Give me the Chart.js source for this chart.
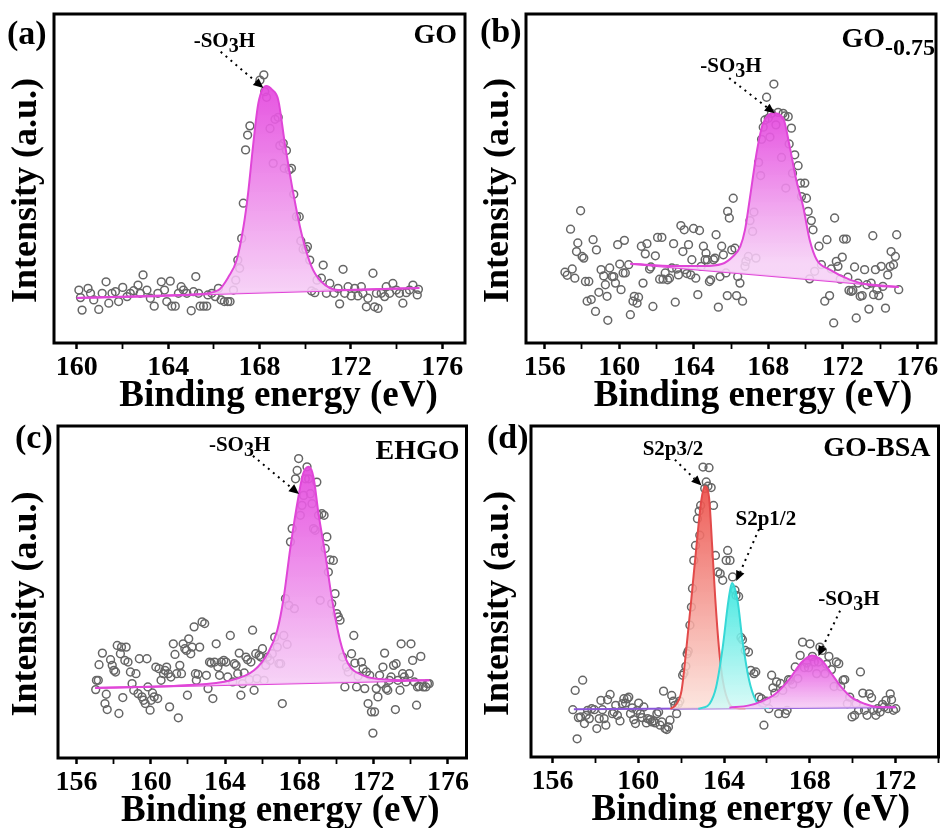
<!DOCTYPE html>
<html>
<head>
<meta charset="utf-8">
<script src="https://cdn.jsdelivr.net/npm/chart.js@4.4.1/dist/chart.umd.min.js"></script>
<style>
  body { margin: 0; background: #fff; }
  #wrap { position: relative; width: 944px; height: 828px; overflow: hidden; }
  canvas { position: absolute; }
</style>
</head>
<body>
<div id="wrap">
  <canvas id="pa" width="472" height="432" style="left:0;top:0"></canvas>
  <canvas id="pb" width="472" height="432" style="left:472px;top:0"></canvas>
  <canvas id="pc" width="472" height="414" style="left:0;top:414px"></canvas>
  <canvas id="pd" width="472" height="414" style="left:472px;top:414px"></canvas>
</div>
<script>
// ---- (a) GO ----
var aTicks = [160, 162, 164, 166, 168, 170, 172, 174, 176];
var aPoints = [[160.09,16.1],[160.16,13.8],[160.23,10.0],[160.49,16.6],[160.6,15.1],[160.74,13.1],[160.96,10.2],[161.11,15.1],[161.28,18.6],[161.4,12.1],[161.54,15.1],[161.69,15.6],[161.83,12.6],[162.01,16.9],[162.2,14.1],[162.34,15.1],[162.49,15.9],[162.68,17.6],[162.78,15.1],[162.9,20.7],[163.07,16.1],[163.22,13.6],[163.39,11.2],[163.55,15.1],[163.7,18.6],[163.84,16.1],[163.94,12.6],[164.09,18.8],[164.16,11.2],[164.31,11.2],[164.45,15.1],[164.57,17.1],[164.67,16.1],[164.82,15.1],[165.01,9.8],[165.11,15.6],[165.21,20.2],[165.33,15.1],[165.4,11.2],[165.55,11.2],[165.69,11.2],[165.74,14.6],[165.91,15.1],[166.06,14.1],[166.2,16.6],[166.32,13.1],[166.46,12.6],[166.61,12.6],[166.71,12.6],[166.86,16.1],[166.96,19.1],[167.05,25.2],[167.13,22.7],[167.22,31.8],[167.29,42.5],[167.39,58.7],[167.48,63.2],[167.58,66.0],[168.02,79.9],[168.19,81.5],[168.23,76.4],[168.31,74.7],[168.46,65.2],[168.6,54.6],[168.68,68.0],[168.82,68.6],[168.89,60.0],[169.04,60.7],[169.08,53.1],[169.18,58.5],[169.3,52.6],[169.4,53.1],[169.5,45.2],[169.62,38.4],[169.74,38.4],[169.81,31.0],[169.91,28.5],[170.03,28.5],[170.1,29.3],[170.2,25.2],[170.28,15.8],[170.42,15.3],[170.52,19.1],[170.71,19.7],[170.79,23.7],[170.93,15.1],[171.08,18.1],[171.27,15.1],[171.44,16.6],[171.51,11.9],[171.66,22.4],[171.73,15.1],[171.88,17.1],[172.02,14.3],[172.17,16.6],[172.31,14.3],[172.46,17.1],[172.53,15.1],[172.68,11.0],[172.75,13.6],[172.97,21.2],[173.04,11.0],[173.12,15.1],[173.19,10.5],[173.33,15.1],[173.48,14.1],[173.55,17.1],[173.7,15.1],[173.84,18.1],[173.99,16.1],[174.13,15.1],[174.28,12.1],[174.43,15.3],[174.57,16.1],[174.72,17.6],[174.91,14.6],[174.96,16.3]];
var aBase = [[160,13.7],[175,16.7]];
var aPeak = [[160,13.7],[165,14.7],[166.2,16.1],[166.65,20.2],[167.0,25.2],[167.3,35.4],[167.5,45.5],[167.73,60.7],[167.95,72.9],[168.3,78.1],[168.55,77.0],[168.82,73.9],[169.11,60.7],[169.48,45.5],[169.84,33.3],[170.28,23.2],[170.71,18.6],[171.44,16.1],[175,16.7]];

// ---- (b) GO-0.75 ----
var bTicks = [156, 158, 160, 162, 164, 166, 168, 170, 172, 174, 176];
var bPoints = [[157.09,21.5],[157.21,20.6],[157.39,34.6],[157.48,22.5],[157.62,19.7],[157.78,30.4],[157.71,27.8],[157.93,40.2],[158.01,26.3],[158.1,25.8],[158.19,18.7],[158.28,12.7],[158.37,18.7],[158.5,13.2],[158.6,31.4],[158.73,9.6],[158.78,28.3],[158.91,15.4],[159.03,22.3],[159.17,20.4],[159.26,17.7],[159.35,14.2],[159.39,6.9],[159.49,22.8],[159.62,20.2],[159.71,20.2],[159.8,18.2],[159.92,29.9],[160.03,24.0],[160.1,16.2],[160.21,21.3],[160.28,31.2],[160.33,21.3],[160.51,23.8],[160.6,8.6],[160.74,12.7],[160.81,14.2],[160.96,12.1],[161.04,13.9],[161.19,29.4],[161.28,18.2],[161.4,27.1],[161.49,30.2],[161.63,22.5],[161.7,23.1],[161.81,11.1],[161.94,26.5],[162.06,32.1],[162.17,19.4],[162.29,32.1],[162.35,19.4],[162.47,21.3],[162.6,19.2],[162.7,19.7],[162.83,22.8],[162.92,30.2],[163.01,12.4],[163.09,22.5],[163.18,20.7],[163.31,35.7],[163.42,27.8],[163.49,34.4],[163.54,22.3],[163.63,21.1],[163.72,29.9],[163.84,20.7],[163.9,25.3],[163.99,34.8],[164.11,19.7],[164.22,14.7],[164.31,34.2],[164.4,23.3],[164.52,29.4],[164.61,25.3],[164.66,27.3],[164.73,25.3],[164.84,18.7],[164.91,19.2],[165.06,25.3],[165.14,25.8],[165.2,32.9],[165.32,10.9],[165.41,20.2],[165.5,29.4],[165.59,26.8],[165.73,21.3],[165.8,14.4],[165.82,40.0],[165.91,38.0],[166.04,28.3],[166.12,44.0],[166.21,28.8],[166.3,14.4],[166.36,20.2],[166.48,18.2],[166.62,12.7],[166.75,23.3],[166.8,24.8],[166.93,26.3],[167.02,37.2],[167.16,33.9],[167.23,39.8],[167.34,25.8],[167.48,54.9],[167.59,50.9],[167.64,61.9],[167.73,65.6],[167.82,67.8],[167.91,74.7],[168.0,68.3],[168.09,62.6],[168.17,69.8],[168.3,78.7],[168.41,66.3],[168.53,70.1],[168.71,56.4],[168.8,69.8],[168.89,69.0],[168.94,47.1],[169.07,68.8],[169.12,60.5],[169.24,65.3],[169.3,51.6],[169.42,57.2],[169.6,53.9],[169.73,48.6],[169.78,44.5],[169.96,48.6],[170.05,44.0],[170.14,40.0],[170.22,19.5],[170.31,37.2],[170.4,34.4],[170.49,21.8],[170.72,29.4],[170.85,23.8],[171.03,12.7],[171.15,31.4],[171.29,14.4],[171.38,22.5],[171.51,6.1],[171.56,38.0],[171.65,24.8],[171.74,23.3],[171.86,19.4],[171.97,26.1],[172.04,31.6],[172.19,31.6],[172.27,20.0],[172.33,16.0],[172.45,15.7],[172.54,16.0],[172.63,23.1],[172.72,7.6],[172.81,18.2],[172.93,14.2],[173.04,14.4],[173.17,22.3],[173.29,17.7],[173.4,10.3],[173.52,18.2],[173.61,32.6],[173.65,14.7],[173.75,22.3],[173.83,16.2],[173.93,14.4],[174.06,23.3],[174.15,17.2],[174.29,10.6],[174.41,20.7],[174.54,23.3],[174.59,27.8],[174.72,23.8],[174.82,26.3],[174.89,32.9],[175.0,16.2]];
var bBase = [[160.6,24.1],[175,17.0]];
var bPeak = [[160.6,24.1],[163.0,23.4],[164.5,23.4],[165.5,24.0],[166.1,26.3],[166.5,29.4],[166.75,34.4],[167.0,43.5],[167.4,58.7],[167.7,66.5],[168.0,69.3],[168.3,69.8],[168.8,68.3],[169.15,59.7],[169.5,49.6],[169.87,41.5],[170.22,31.4],[170.6,25.3],[171.3,22.3],[172.4,19.2],[173.4,17.7],[175,17.0]];

// ---- (c) EHGO ----
var cTicks = [156, 158, 160, 162, 164, 166, 168, 170, 172, 174, 176];
var cPoints = [[157.03,20.6],[157.07,23.4],[157.17,23.4],[157.21,28.1],[157.39,31.6],[157.53,16.4],[157.6,19.2],[157.65,14.6],[157.83,29.6],[157.92,27.9],[158.01,26.4],[158.1,25.9],[158.19,33.9],[158.28,13.4],[158.36,31.4],[158.42,33.4],[158.49,18.2],[158.6,29.4],[158.67,33.4],[158.77,28.9],[158.9,25.9],[158.99,22.4],[159.08,20.4],[159.2,25.4],[159.31,19.4],[159.38,29.9],[159.52,18.4],[159.61,17.4],[159.7,16.4],[159.79,29.9],[159.84,21.4],[159.96,14.4],[160.02,17.4],[160.09,19.6],[160.18,18.4],[160.27,27.4],[160.37,17.9],[160.44,26.9],[160.55,23.4],[160.68,25.4],[160.76,26.4],[160.85,27.4],[160.94,25.4],[161.01,15.4],[161.08,24.4],[161.21,34.4],[161.3,31.2],[161.39,25.4],[161.48,12.1],[161.56,27.9],[161.65,25.4],[161.74,34.4],[161.83,32.9],[161.92,32.4],[161.97,18.9],[162.04,35.9],[162.15,31.4],[162.22,33.4],[162.33,39.5],[162.4,25.4],[162.45,23.4],[162.54,25.2],[162.63,33.4],[162.76,41.0],[162.9,40.5],[162.99,24.9],[163.08,20.9],[163.16,28.9],[163.25,28.6],[163.34,17.9],[163.43,28.9],[163.52,34.4],[163.61,27.4],[163.7,24.9],[163.79,28.9],[163.93,29.4],[164.05,28.9],[164.14,24.4],[164.28,36.9],[164.41,22.9],[164.5,28.4],[164.59,27.9],[164.68,25.4],[164.76,31.6],[164.85,18.9],[164.94,22.4],[165.03,25.6],[165.12,30.4],[165.21,29.6],[165.3,23.6],[165.39,28.9],[165.48,38.5],[165.56,20.4],[165.65,31.4],[165.71,23.9],[165.83,30.9],[165.92,30.4],[166.01,32.9],[166.1,23.4],[166.19,27.9],[166.28,30.4],[166.42,29.4],[166.54,31.4],[166.67,36.4],[166.81,33.4],[166.9,28.4],[166.99,28.4],[167.08,16.4],[167.16,36.9],[167.25,48.0],[167.34,34.2],[167.43,46.0],[167.52,65.1],[167.61,69.1],[167.73,45.0],[167.79,84.1],[167.88,86.6],[167.96,90.2],[168.05,73.1],[168.14,76.1],[168.23,79.1],[168.32,84.1],[168.41,87.7],[168.5,84.1],[168.59,79.6],[168.68,76.6],[168.76,69.1],[168.85,68.6],[168.94,83.1],[169.03,73.1],[169.12,47.5],[169.21,73.6],[169.33,73.1],[169.39,63.1],[169.48,66.6],[169.56,56.0],[169.65,59.7],[169.74,46.5],[169.83,59.5],[169.92,49.5],[170.01,43.5],[170.1,42.5],[170.19,41.5],[170.33,30.4],[170.45,21.4],[170.54,27.4],[170.63,25.9],[170.81,31.4],[170.93,36.9],[170.99,28.6],[171.08,21.4],[171.16,24.6],[171.34,28.9],[171.43,26.9],[171.52,20.9],[171.61,25.9],[171.7,16.4],[171.79,24.9],[171.88,13.9],[171.96,7.5],[172.05,13.9],[172.14,20.9],[172.23,18.4],[172.32,24.9],[172.41,22.4],[172.5,27.4],[172.59,31.6],[172.68,20.9],[172.76,20.4],[172.85,23.4],[172.94,24.4],[173.07,27.9],[173.17,14.6],[173.21,28.4],[173.3,23.4],[173.42,20.4],[173.48,34.4],[173.56,25.4],[173.65,24.4],[173.74,22.9],[173.92,25.4],[174.01,34.4],[174.1,29.4],[174.19,22.9],[174.31,15.9],[174.36,21.4],[174.45,21.6],[174.54,30.6],[174.67,21.4],[174.81,21.4],[174.9,22.4],[174.99,22.4]];
var cBase = [[157,21.1],[175,23.4]];
var cPeak = [[157,21.1],[161.83,21.9],[164.32,23.4],[165.56,26.4],[166.28,31.4],[166.81,38.5],[167.16,48.5],[167.52,63.6],[167.96,79.1],[168.2,85.6],[168.5,87.7],[168.76,84.6],[169.03,73.6],[169.39,61.5],[169.74,48.5],[170.19,35.4],[170.63,28.4],[171.43,24.9],[172.85,23.6],[175,23.4]];

// ---- (d) GO-BSA ----
var dTicks = [156, 158, 160, 162, 164, 166, 168, 170, 172, 174];
var dPoints = [[156.95,14.3],[157.06,20.1],[157.15,5.5],[157.21,11.9],[157.31,12.1],[157.41,23.2],[157.49,10.1],[157.57,12.6],[157.64,14.1],[157.72,11.6],[157.83,14.6],[157.95,14.3],[158.07,8.6],[158.18,11.6],[158.26,17.1],[158.33,14.3],[158.41,11.6],[158.49,9.6],[158.57,17.3],[158.69,18.9],[158.8,13.1],[158.87,13.6],[158.95,15.6],[159.03,12.6],[159.15,10.9],[159.26,16.1],[159.33,17.6],[159.41,16.3],[159.49,17.6],[159.56,18.1],[159.64,13.1],[159.72,14.8],[159.79,11.3],[159.87,10.1],[159.95,14.1],[160.02,16.3],[160.1,13.1],[160.18,11.9],[160.26,15.1],[160.38,10.3],[160.44,11.6],[160.56,11.3],[160.64,10.6],[160.72,10.9],[160.79,10.3],[160.87,13.1],[160.95,13.6],[161.02,9.6],[161.1,10.6],[161.18,19.9],[161.25,8.6],[161.33,8.3],[161.41,9.1],[161.48,11.1],[161.56,18.6],[161.64,16.9],[161.71,15.6],[161.79,13.1],[161.87,16.1],[161.94,16.9],[162.07,24.7],[162.13,25.4],[162.22,27.4],[162.28,31.2],[162.33,32.0],[162.41,39.8],[162.48,45.3],[162.53,50.9],[162.59,59.4],[162.67,63.9],[162.76,72.0],[162.84,74.3],[162.87,67.0],[162.91,76.0],[163.02,87.6],[163.1,81.1],[163.17,83.1],[163.25,81.8],[163.3,87.4],[163.4,81.4],[163.51,76.0],[163.6,60.9],[163.71,55.9],[163.82,55.4],[163.94,53.4],[164.1,59.4],[164.17,62.4],[164.28,59.4],[164.4,54.4],[164.51,50.4],[164.56,48.8],[164.68,48.5],[164.79,36.1],[164.86,35.4],[164.99,32.2],[165.14,31.7],[165.25,26.2],[165.4,25.2],[165.48,25.7],[165.63,18.1],[165.75,17.6],[165.86,9.6],[165.98,16.9],[166.09,14.6],[166.22,24.7],[166.28,20.9],[166.37,19.3],[166.45,22.7],[166.55,13.1],[166.63,22.2],[166.74,20.1],[166.86,13.1],[166.94,14.1],[167.01,23.4],[167.09,23.2],[167.2,22.0],[167.32,27.2],[167.44,23.7],[167.55,30.7],[167.66,34.7],[167.75,27.0],[167.86,28.4],[167.94,27.0],[168.01,34.2],[168.12,30.4],[168.21,28.7],[168.32,25.2],[168.4,28.7],[168.47,33.2],[168.58,32.2],[168.71,25.2],[168.78,28.0],[168.89,30.4],[169.01,26.4],[169.13,21.3],[169.24,28.7],[169.35,28.2],[169.44,21.3],[169.55,23.2],[169.63,23.4],[169.75,16.1],[169.86,18.1],[169.97,12.1],[170.09,12.6],[170.16,16.1],[170.27,14.1],[170.36,25.7],[170.47,19.3],[170.55,14.1],[170.67,12.6],[170.77,19.1],[170.88,17.9],[170.98,14.1],[171.08,12.6],[171.16,14.6],[171.28,13.6],[171.39,15.9],[171.47,15.1],[171.55,17.1],[171.65,14.6],[171.75,19.1],[171.81,17.3],[171.9,14.1],[172.01,14.6]];
var dBase = [[157,14.4],[172,15.0]];
var dRed = [[161.5,14.5],[161.79,16.1],[162.02,20.1],[162.25,33.2],[162.48,48.0],[162.71,63.4],[162.94,77.5],[163.1,81.8],[163.3,78.5],[163.45,63.4],[163.59,48.0],[163.76,33.2],[163.94,23.2],[164.25,16.1],[164.56,14.8],[165,14.7]];
var dCyan = [[162.8,14.6],[163.02,14.9],[163.33,16.1],[163.63,21.1],[163.94,33.2],[164.2,47.0],[164.37,52.6],[164.63,47.3],[164.86,35.2],[165.17,23.2],[165.48,17.1],[165.78,15.1],[166.1,14.8]];
var dMag = [[164.25,14.9],[165.17,15.6],[165.78,16.9],[166.4,19.1],[167.01,23.2],[167.63,28.7],[168.09,30.7],[168.55,29.2],[169.01,25.2],[169.47,21.1],[169.93,18.1],[170.55,16.1],[171.16,15.1],[172,15.0]];

var serif = '"Liberation Serif", "Times New Roman", serif';
var SO3H = [['-SO'], ['3', 0.22, 0.95], ['H']];
var xTitle = 'Binding energy (eV)';
var yTitle = 'Intensity (a.u.)';

var MAG = { line: '#e046d8', top: 'rgba(228,70,222,0.92)', bottom: 'rgba(246,208,246,0.88)' };
var RED = { line: '#e24a4a', top: 'rgba(236,78,72,0.92)', bottom: 'rgba(252,226,218,0.85)' };
var CYAN = { line: '#36d8d6', top: 'rgba(52,230,222,0.9)', bottom: 'rgba(212,250,246,0.85)' };

function toXY(arr) {
    return arr.map(function (p) { return { x: p[0], y: p[1] }; });
}

function richText(ctx, parts, x, y, size, align) {
    var fonts = parts.map(function (p) { return 'bold ' + Math.round(size * (p[2] || 1)) + 'px ' + serif; });
    var w = 0;
    parts.forEach(function (p, i) { ctx.font = fonts[i]; w += ctx.measureText(p[0]).width; });
    var cx = align === 'right' ? x - w : (align === 'center' ? x - w / 2 : x);
    ctx.textAlign = 'left';
    ctx.textBaseline = 'alphabetic';
    parts.forEach(function (p, i) {
        ctx.font = fonts[i];
        ctx.fillText(p[0], cx, y + (p[1] || 0) * size);
        cx += ctx.measureText(p[0]).width;
    });
}

var decor = {
    id: 'decor',
    afterDatasetsDraw: function (chart, args, o) {
        var ctx = chart.ctx, a = chart.chartArea, xs = chart.scales.x, ys = chart.scales.y;
        ctx.save();
        ctx.fillStyle = '#000';
        ctx.strokeStyle = '#000';
        // dotted arrows + peak labels
        (o.notes || []).forEach(function (n) {
            var x1 = xs.getPixelForValue(n.from[0]), y1 = ys.getPixelForValue(n.from[1]);
            var x2 = xs.getPixelForValue(n.to[0]), y2 = ys.getPixelForValue(n.to[1]);
            var ang = Math.atan2(y2 - y1, x2 - x1);
            var hl = 10;
            ctx.lineWidth = 2;
            ctx.setLineDash([2, 4.5]);
            ctx.beginPath();
            ctx.moveTo(x1, y1);
            ctx.lineTo(x2 - Math.cos(ang) * hl, y2 - Math.sin(ang) * hl);
            ctx.stroke();
            ctx.setLineDash([]);
            ctx.beginPath();
            ctx.moveTo(x2, y2);
            ctx.lineTo(x2 - Math.cos(ang) * hl + Math.sin(ang) * 4.5, y2 - Math.sin(ang) * hl - Math.cos(ang) * 4.5);
            ctx.lineTo(x2 - Math.cos(ang) * hl - Math.sin(ang) * 4.5, y2 - Math.sin(ang) * hl + Math.cos(ang) * 4.5);
            ctx.closePath();
            ctx.fill();
            richText(ctx, n.text, xs.getPixelForValue(n.at[0]), ys.getPixelForValue(n.at[1]), n.size || 21, 'center');
        });
        // sample name and panel letter
        richText(ctx, o.name, a.right - o.nameInset[0], a.top + o.nameInset[1], 28, 'right');
        richText(ctx, [[o.letter]], o.letterPos[0], o.letterPos[1], 34, 'left');
        // axis titles (slightly off-centre, as in the source figure)
        ctx.font = 'bold 37px ' + serif;
        ctx.textAlign = 'center';
        ctx.textBaseline = 'middle';
        ctx.fillText(xTitle, (a.left + a.right) / 2 + o.xtShift, a.bottom + 53);
        ctx.save();
        ctx.translate(27, (a.top + a.bottom) / 2 + 12);
        ctx.rotate(-Math.PI / 2);
        ctx.font = 'bold 36px ' + serif;
        ctx.fillText(yTitle, 0, 0);
        ctx.restore();
        // frame
        ctx.lineWidth = 3;
        ctx.strokeRect(a.left, a.top, a.right - a.left, a.bottom - a.top);
        ctx.restore();
    }
};

function gradFill(c, lo, hi) {
    return function (ctx) {
        var chart = ctx.chart;
        if (!chart.chartArea) return c.top;
        var ys = chart.scales.y;
        var g = chart.ctx.createLinearGradient(0, ys.getPixelForValue(hi), 0, ys.getPixelForValue(lo));
        g.addColorStop(0, c.top);
        g.addColorStop(1, c.bottom);
        return g;
    };
}

function peakSet(data, c, order, baseY) {
    var top = Math.max.apply(null, data.map(function (p) { return p[1]; }));
    return {
        type: 'line',
        data: toXY(data),
        borderColor: c.line,
        borderWidth: 2,
        pointRadius: 0,
        cubicInterpolationMode: 'monotone',
        fill: 1,
        backgroundColor: gradFill(c, baseY, top),
        order: order
    };
}

function makePanel(id, p) {
    var datasets = [
        {
            type: 'scatter',
            data: toXY(p.points),
            pointRadius: 3.9,
            pointBorderWidth: 1.5,
            pointBorderColor: '#666666',
            pointBackgroundColor: 'rgba(255,255,255,0)',
            showLine: false,
            order: 10
        },
        {
            type: 'line',
            data: toXY(p.base),
            borderColor: p.baseColor || MAG.line,
            borderWidth: 2,
            pointRadius: 0,
            fill: false,
            order: 6
        }
    ];
    p.peaks.forEach(function (pk, i) {
        datasets.push(peakSet(pk.data, pk.color, 5 - i, p.base[0][1]));
    });

    return new Chart(document.getElementById(id), {
        type: 'scatter',
        data: { datasets: datasets },
        options: {
            responsive: false,
            animation: false,
            devicePixelRatio: 1,
            layout: { padding: { top: p.T, right: p.R, left: 0, bottom: 0 } },
            plugins: {
                legend: { display: false },
                tooltip: { enabled: false },
                decor: { notes: p.notes, name: p.name, nameInset: p.nameInset, letter: p.letter, letterPos: p.letterPos, xtShift: p.xtShift }
            },
            scales: {
                x: {
                    type: 'linear',
                    min: p.xmin,
                    max: p.xmax,
                    afterBuildTicks: function (s) { s.ticks = p.ticks.map(function (v) { return { value: v }; }); },
                    afterFit: function (s) { s.height = p.xh; },
                    border: { display: false },
                    grid: {
                        drawOnChartArea: false,
                        drawTicks: true,
                        tickLength: 6,
                        tickWidth: function (c) { return c.tick && c.tick.value % 4 === 0 ? 2.5 : 1.8; },
                        color: '#000'
                    },
                    ticks: {
                        autoSkip: false,
                        maxRotation: 0,
                        padding: 2,
                        color: '#000',
                        font: { family: serif, size: 28, weight: 'bold' },
                        callback: function (v) { return v % 4 === 0 ? v : ''; }
                    },
                    title: { display: false }
                },
                y: {
                    min: 0,
                    max: 100,
                    afterFit: function (s) { s.width = p.L; },
                    border: { display: false },
                    grid: { display: false },
                    ticks: { display: false },
                    title: { display: false }
                }
            }
        },
        plugins: [decor]
    });
}

makePanel('pa', {
    xmin: 159, xmax: 177, ticks: aTicks, L: 54, T: 14, R: 7, xh: 89, xtShift: 19,
    points: aPoints, base: aBase,
    peaks: [{ data: aPeak, color: MAG }],
    notes: [{ text: SO3H, at: [166.46, 90.0], from: [166.3, 88.5], to: [168.17, 77.5] }],
    name: [['GO']], nameInset: [8, 29],
    letter: '(a)', letterPos: [7, 44]
});

makePanel('pb', {
    xmin: 155, xmax: 177, ticks: bTicks, L: 54, T: 14, R: 8, xh: 89, xtShift: 22,
    points: bPoints, base: bBase,
    peaks: [{ data: bPeak, color: MAG }],
    notes: [{ text: SO3H, at: [166.0, 82.4], from: [165.9, 80.5], to: [168.35, 69.8] }],
    name: [['GO'], ['-0.75', 0.28, 0.85]], nameInset: [1, 33],
    letter: '(b)', letterPos: [8, 42]
});

makePanel('pc', {
    xmin: 155, xmax: 177, ticks: cTicks, L: 58, T: 12, R: 2, xh: 70, xtShift: 18,
    points: cPoints, base: cBase,
    peaks: [{ data: cPeak, color: MAG }],
    notes: [{ text: SO3H, at: [164.78, 92.5], from: [165.5, 91.0], to: [167.98, 79.5] }],
    name: [['EHGO']], nameInset: [7, 33],
    letter: '(c)', letterPos: [15, 34]
});

makePanel('pd', {
    xmin: 155, xmax: 174, ticks: dTicks, L: 59, T: 12, R: 1, xh: 71, xtShift: 16,
    points: dPoints, base: dBase, baseColor: '#8a55d8',
    peaks: [{ data: dRed, color: RED }, { data: dCyan, color: CYAN }, { data: dMag, color: MAG }],
    notes: [
        { text: [['S2p3/2']], at: [161.62, 91.2], from: [161.71, 89.8], to: [162.95, 82.0] },
        { text: [['S2p1/2']], at: [165.95, 70.1], from: [165.63, 68.8], to: [164.57, 53.2] },
        { text: SO3H, at: [169.82, 45.9], from: [169.41, 44.2], to: [168.4, 30.5] }
    ],
    name: [['GO-BSA']], nameInset: [8, 30],
    letter: '(d)', letterPos: [15, 34]
});
</script>
</body>
</html>
